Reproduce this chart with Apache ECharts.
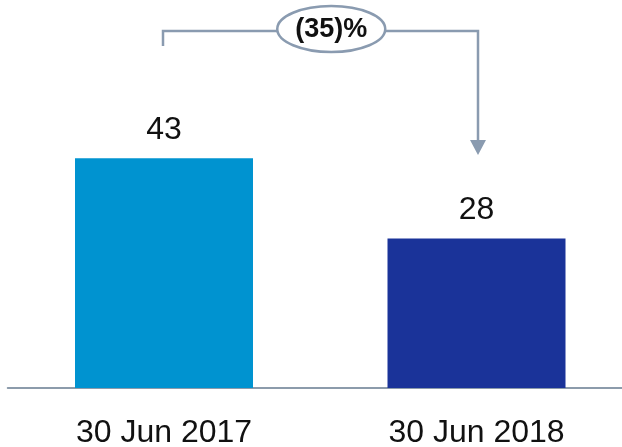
<!DOCTYPE html>
<html>
<head>
<meta charset="utf-8">
<script src="https://cdn.jsdelivr.net/npm/echarts@6/dist/echarts.min.js"></script>
<style>
html,body{margin:0;padding:0;background:#fff;}
#c{width:622px;height:447px;}
</style>
</head>
<body>
<div id="c"></div>
<script>
const categories = ['30 Jun 2017', '30 Jun 2018'];
const values = [43, 28];
const barColors = ['#0093D0', '#1A3399'];
const changeLabel = '(35)%';

const chart = echarts.init(document.getElementById('c'), null, {renderer: 'canvas'});
const FONT = '"Liberation Sans", Arial, sans-serif';
const LINE = '#8A9BB0';

chart.setOption({
  animation: false,
  grid: {left: 7.75, width: 625, top: 67.5, bottom: 59, containLabel: false, outerBoundsMode: 'none'},
  xAxis: {
    type: 'category',
    data: categories,
    axisLine: {lineStyle: {color: '#8C9BAB', width: 2}},
    axisTick: {show: false},
    axisLabel: {color: '#111', fontSize: 32, fontFamily: FONT, margin: 29}
  },
  yAxis: {
    type: 'value', min: 0, max: 60,
    show: false, splitLine: {show: false}
  },
  series: [{
    type: 'bar',
    barWidth: 178,
    data: values.map((v, i) => ({value: v, itemStyle: {color: barColors[i]}})),
    label: {show: true, position: 'top', distance: 12, color: '#111', fontSize: 32, fontFamily: FONT}
  }]
});

const p1 = chart.convertToPixel({seriesIndex: 0}, [0, values[0]]);
const p2 = chart.convertToPixel({seriesIndex: 0}, [1, values[1]]);
const yTop = 31, leftBottom = 46, arrowTip = 155;
const cx = (p1[0] + p2[0]) / 2 + 11, rx = 54, ry = 23;
const xr = p2[0] + 1.5;

chart.setOption({
  graphic: [
    {type: 'polyline', shape: {points: [[p1[0] - 1, leftBottom], [p1[0] - 1, yTop], [cx - rx, yTop]]},
     style: {stroke: LINE, lineWidth: 2.5, fill: null}},
    {type: 'polyline', shape: {points: [[cx + rx, yTop], [xr, yTop], [xr, arrowTip - 12]]},
     style: {stroke: LINE, lineWidth: 2.5, fill: null}},
    {type: 'polygon', shape: {points: [[xr - 8, arrowTip - 15], [xr + 8, arrowTip - 15], [xr, arrowTip]]},
     style: {fill: LINE}},
    {type: 'ellipse', shape: {cx: cx, cy: yTop - 2, rx: rx, ry: ry},
     style: {stroke: LINE, lineWidth: 2.5, fill: '#fff'}},
    {type: 'text', x: cx, y: yTop - 1,
     style: {text: changeLabel, font: 'bold 27px ' + FONT, fill: '#111', align: 'center', verticalAlign: 'middle'}}
  ]
});
</script>
</body>
</html>
